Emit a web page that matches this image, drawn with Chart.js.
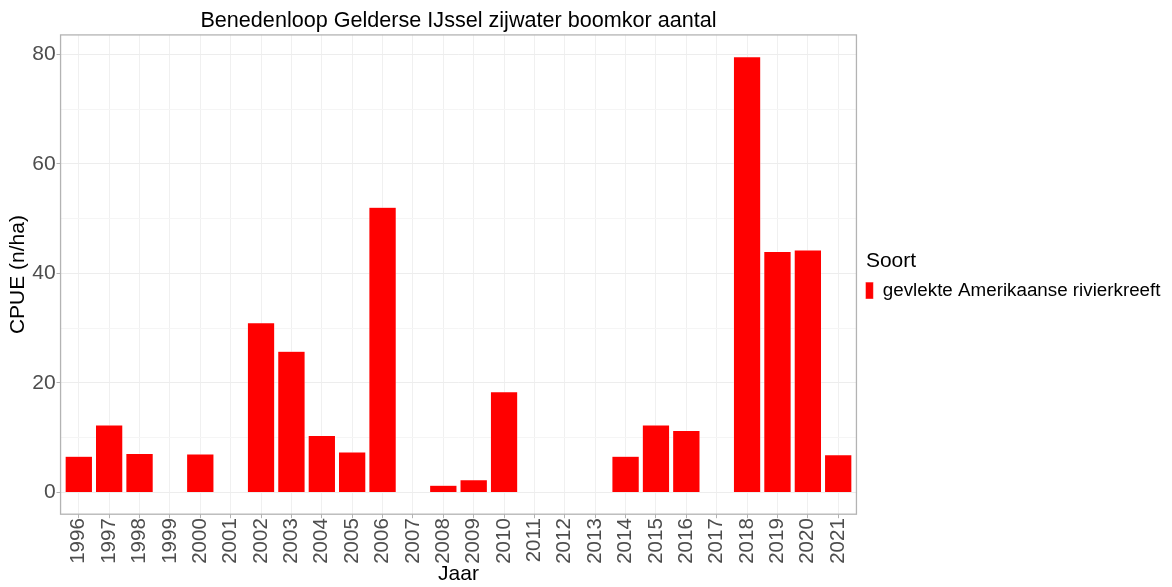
<!DOCTYPE html>
<html>
<head>
<meta charset="utf-8">
<title>Benedenloop Gelderse IJssel zijwater boomkor aantal</title>
<script src="https://cdn.jsdelivr.net/npm/chart.js@4.4.1/dist/chart.umd.min.js"></script>
<style>
    body { margin: 0; background: #fff; }
    canvas { display: block; }
</style>
</head>
<body>
<canvas id="cpue-chart" width="1172" height="587"></canvas>
<script>
// Years on the x axis
const years = [1996, 1997, 1998, 1999, 2000, 2001, 2002, 2003, 2004, 2005, 2006, 2007, 2008,
    2009, 2010, 2011, 2012, 2013, 2014, 2015, 2016, 2017, 2018, 2019, 2020, 2021];

// CPUE (n/ha) per year, null where nothing was caught
const cpue = [6.6, 12.3, 7.1, null, 7.0, null, 31.0, 25.8, 10.4, 7.4, 52.1, null, 1.3,
    2.3, 18.4, null, null, null, 6.6, 12.3, 11.3, null, 79.6, 44.0, 44.3, 6.9];

// Grid lines on the y axis (labelled ones every 20)
const yTicks = [0, 10, 20, 30, 40, 50, 60, 70, 80];
const yLabels = [0, 20, 40, 60, 80];

const seriesName = 'gevlekte Amerikaanse rivierkreeft';

// ggplot style range: 5% padding on y, 0.6 of a category on x
const yMax = Math.max(...cpue.filter(v => v !== null));
const yPad = 0.05 * yMax;
const xMin = years[0] - 0.6;
const xMax = years[years.length - 1] + 0.6;

const fontFamily = '"Liberation Sans", Arial, sans-serif';

// Draw the grey box round the panel
const panelBorder = {
    id: 'panelBorder',
    afterDraw(chart) {
        const { ctx, chartArea: a } = chart;
        ctx.save();
        ctx.strokeStyle = '#b3b3b3';
        ctx.lineWidth = 1.3;
        ctx.strokeRect(a.left, a.top, a.right - a.left, a.bottom - a.top);
        ctx.restore();
    }
};

const cpueChart = new Chart(document.getElementById('cpue-chart').getContext('2d'), {
    type: 'bar',
    data: {
        datasets: [{
            label: seriesName,
            data: years.map((y, i) => ({ x: y, y: cpue[i] })),
            backgroundColor: '#ff0000',
            borderColor: '#ffffff',
            borderWidth: 0.5,
            barPercentage: 0.9,
            categoryPercentage: 1.0
        }]
    },
    options: {
        responsive: false,
        animation: false,
        devicePixelRatio: 1,
        layout: {
            padding: { left: 2, right: 1.5, top: 0, bottom: 0 }
        },
        plugins: {
            title: {
                display: true,
                text: 'Benedenloop Gelderse IJssel zijwater boomkor aantal',
                color: '#000',
                fullSize: false,
                font: { family: fontFamily, size: 21.6, weight: 'normal' },
                padding: { top: 8, bottom: 1 }
            },
            legend: {
                position: 'right',
                align: 'start',
                maxWidth: 340,
                title: {
                    display: true,
                    // small lead so the title lines up with the key
                    text: '\u2005\u2009Soort',
                    position: 'start',
                    color: '#000',
                    font: { family: fontFamily, size: 21 },
                    padding: { top: 251, bottom: -4 }
                },
                labels: {
                    color: '#000',
                    font: { family: fontFamily, size: 18.8 },
                    boxWidth: 8,
                    boxHeight: 17,
                    padding: 9
                }
            },
            tooltip: { enabled: false }
        },
        scales: {
            x: {
                type: 'linear',
                min: xMin,
                max: xMax,
                offset: false,
                afterBuildTicks: axis => {
                    axis.ticks = years.map(v => ({ value: v }));
                },
                ticks: {
                    autoSkip: false,
                    minRotation: 90,
                    maxRotation: 90,
                    padding: 0,
                    color: '#4d4d4d',
                    font: { family: fontFamily, size: 20.5 },
                    callback: v => String(v)
                },
                grid: {
                    offset: false,
                    color: '#f0f0f0',
                    tickColor: '#b3b3b3',
                    tickLength: 4
                },
                border: { display: false },
                title: {
                    display: true,
                    text: 'Jaar',
                    color: '#000',
                    font: { family: fontFamily, size: 21 },
                    padding: { top: -2, bottom: 0 }
                }
            },
            y: {
                min: -yPad,
                max: yMax + yPad,
                afterBuildTicks: axis => {
                    axis.ticks = yTicks.map(v => ({ value: v }));
                },
                ticks: {
                    padding: 1,
                    color: '#4d4d4d',
                    font: { family: fontFamily, size: 21 },
                    callback: v => (yLabels.includes(v) ? String(v) : '')
                },
                grid: {
                    color: ctx => (yLabels.includes(ctx.tick.value) ? '#ededed' : '#f5f5f5'),
                    tickColor: ctx => (yLabels.includes(ctx.tick.value) ? '#b3b3b3' : 'rgba(0,0,0,0)'),
                    tickLength: 4
                },
                border: { display: false },
                title: {
                    display: true,
                    text: 'CPUE (n/ha)',
                    color: '#000',
                    font: { family: fontFamily, size: 21 },
                    padding: { top: 4, bottom: 0 }
                }
            }
        }
    },
    plugins: [panelBorder]
});
</script>
</body>
</html>
